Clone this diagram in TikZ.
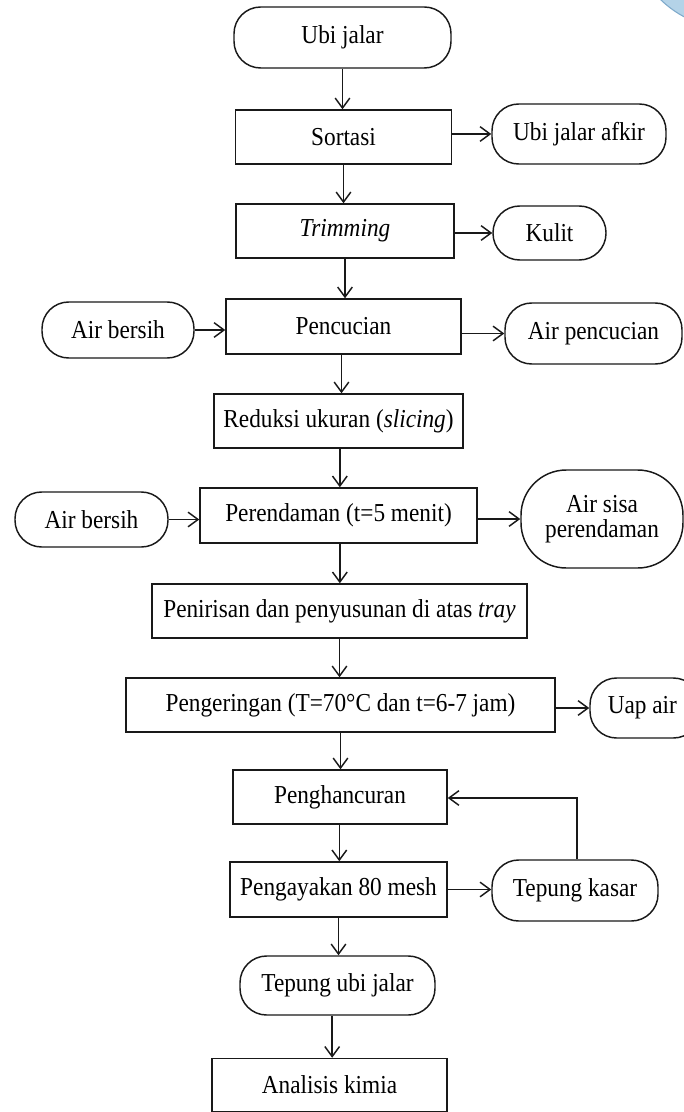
\documentclass[tikz,border=0pt]{standalone}
\usepackage{fontspec}
\setmainfont[FakeStretch=0.9]{Liberation Serif}
\usetikzlibrary{arrows.meta}
\definecolor{bluefill}{HTML}{B4D3E8}
\definecolor{blueedge}{HTML}{7FAACB}
\begin{document}
\begin{tikzpicture}[x=0.75pt,y=-0.75pt,
  every node/.style={font=\fontsize{19.4pt}{18.5pt}\selectfont, inner sep=0pt, align=center, line width=1.1pt, draw=black!90},
  proc/.style 2 args={rectangle, minimum width=#1*0.75pt, minimum height=#2*0.75pt},
  term/.style 2 args={rectangle, rounded corners=20pt, minimum width=#1*0.75pt, minimum height=#2*0.75pt},
  arr/.style={line width=1.1pt, draw=black!90, -{Straight Barb[length=7.5pt,width=11pt,line width=1.1pt]}},
  lin/.style={line width=1.1pt, draw=black!90}]
\useasboundingbox (0,0) rectangle (684,1112);
% decorative blue arc, top right
\fill[bluefill, draw=blueedge, line width=0.8pt] (733,-75) circle[radius=104*0.75pt];

% main column
\node[term={217}{61}] (ubi) at (342.5,37.5) {Ubi jalar};
\node[proc={216}{54}] (sortasi) at (343.5,137) {Sortasi};
\node[proc={218}{54}] (trim) at (345,231) {\itshape Trimming};
\node[proc={235}{55}] (cuci) at (343.5,326.5) {Pencucian};
\node[proc={249}{54}] (reduksi) at (338.5,421) {Reduksi ukuran (\textit{slicing})};
\node[proc={277}{55}] (rendam) at (338.5,515.5) {Perendaman (t=5 menit)};
\node[proc={375}{54}] (tiris) at (339.5,611) {Penirisan dan penyusunan di atas \textit{tray}};
\node[proc={429}{54}] (kering) at (340.5,705) {Pengeringan (T=70°C dan t=6-7 jam)};
\node[proc={214}{54}] (hancur) at (340,797) {Penghancuran};
\node[proc={217}{55}] (ayak) at (338.5,889.5) {Pengayakan 80 mesh};
\node[term={195}{59}] (tepung) at (337.5,985.5) {Tepung ubi jalar};
\node[proc={235}{53}] (analisis) at (329.5,1085) {Analisis kimia};

% side nodes
\node[term={174}{60}] (afkir) at (579,134) {Ubi jalar afkir};
\node[term={113}{54}] (kulit) at (549.5,233) {Kulit};
\node[term={152}{56}] (air1) at (118,330) {Air bersih};
\node[term={177}{61}] (aircuci) at (593.5,333.5) {Air pencucian};
\node[term={153}{55}] (air2) at (91.5,519.5) {Air bersih};
\node[rectangle, rounded corners=34pt, minimum width=162*0.75pt, minimum height=98*0.75pt] (sisa) at (602,519) {Air sisa\\perendaman};
\node[term={110}{60}] (uap) at (645,708) {Uap air\hspace*{4pt}};
\node[term={166}{61}] (kasar) at (575,890.5) {Tepung kasar};

% vertical arrows
\draw[arr] (ubi.south) -- (ubi.south |- sortasi.north);
\draw[arr] (sortasi.south) -- (sortasi.south |- trim.north);
\draw[arr] (trim.south) -- (trim.south |- cuci.north);
\draw[arr] ([xshift=-1.5pt]cuci.south) -- ([xshift=-1.5pt]cuci.south |- reduksi.north);
\draw[arr] ([xshift=1pt]reduksi.south) -- ([xshift=1pt]reduksi.south |- rendam.north);
\draw[arr] ([xshift=1pt]rendam.south) -- ([xshift=1pt]rendam.south |- tiris.north);
\draw[arr] (tiris.south) -- (tiris.south |- kering.north);
\draw[arr] (kering.south) -- (kering.south |- hancur.north);
\draw[arr] ([xshift=-0.5pt]hancur.south) -- ([xshift=-0.5pt]hancur.south |- ayak.north);
\draw[arr] (ayak.south) -- (ayak.south |- tepung.north);
\draw[arr] ([xshift=-4pt]tepung.south) -- ([xshift=-4pt]tepung.south |- analisis.north);

% horizontal arrows
\draw[arr] (sortasi.east |- afkir) -- (afkir.west);
\draw[arr] (trim.east |- kulit) -- (kulit.west);
\draw[arr] (air1.east) -- (air1.east -| cuci.west);
\draw[arr] (cuci.east |- aircuci) -- (aircuci.west);
\draw[arr] (air2.east) -- (air2.east -| rendam.west);
\draw[arr] (rendam.east |- sisa) -- (sisa.west);
\draw[arr] (kering.east |- uap) -- (uap.west);
\draw[arr] (ayak.east) -- (ayak.east -| kasar.west);

% feedback loop
\coordinate (fb) at (577,798);
\draw[arr] (kasar.north -| fb) -- (fb) -- (fb -| hancur.east);
\end{tikzpicture}
\end{document}
